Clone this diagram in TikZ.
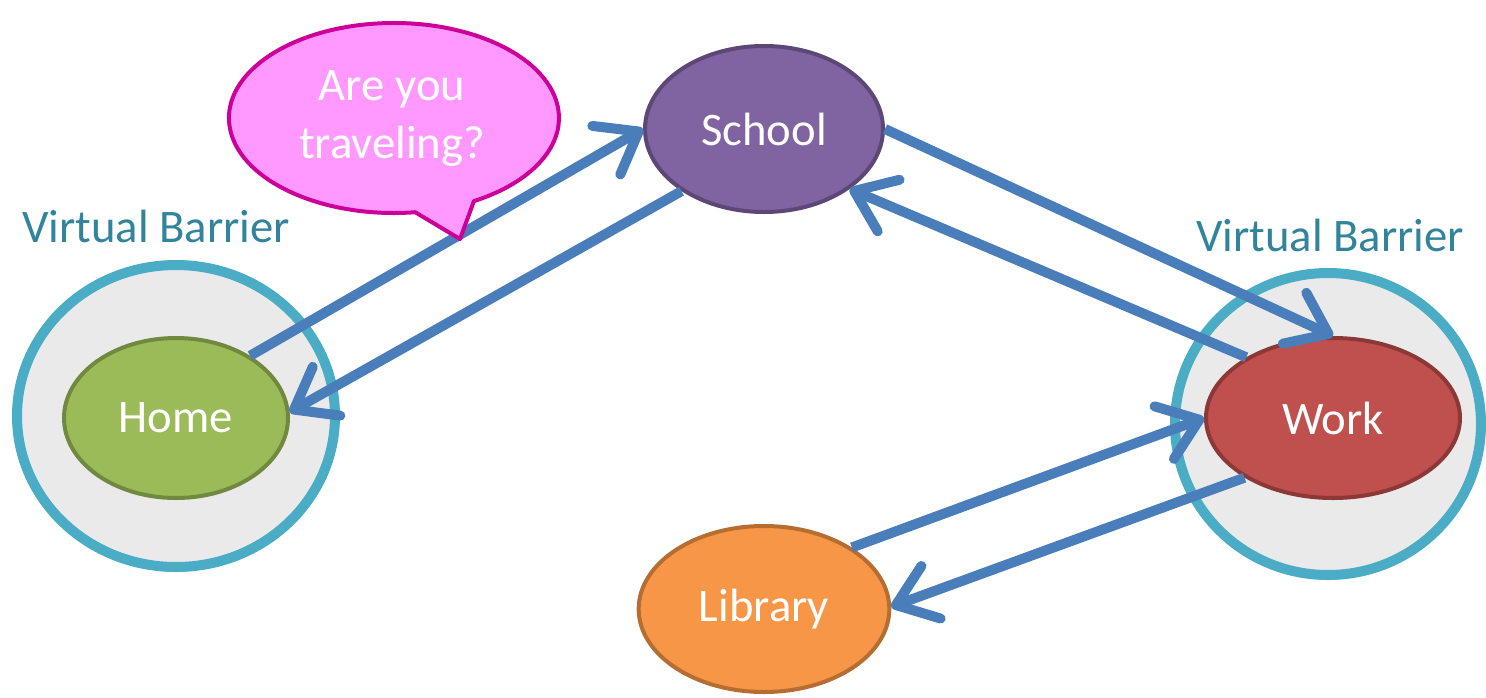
\documentclass[tikz,border=0pt]{standalone}
\usepackage{fontspec}
\setmainfont{Carlito}
\usetikzlibrary{arrows.meta,shapes.geometric}

\definecolor{barrierblue}{HTML}{4BACC6}
\definecolor{barriergray}{HTML}{EAEAEA}
\definecolor{barriertext}{HTML}{31849B}
\definecolor{tripblue}{HTML}{4A7EBB}
\definecolor{homefill}{HTML}{9BBB59}
\definecolor{homeline}{HTML}{71893F}
\definecolor{schoolfill}{HTML}{8064A2}
\definecolor{schoolline}{HTML}{5C4776}
\definecolor{workfill}{HTML}{C0504D}
\definecolor{workline}{HTML}{8C3836}
\definecolor{libraryfill}{HTML}{F79646}
\definecolor{libraryline}{HTML}{B66D31}
\definecolor{bubblefill}{HTML}{FF99FF}
\definecolor{bubbleline}{HTML}{CC0099}

\begin{document}
\begin{tikzpicture}[x=0.75pt,y=0.75pt,yscale=-1,xscale=1,
  bigfont/.style={font=\fontsize{35}{43.5}\selectfont},
  place/.style={ellipse, draw, line width=3pt, text=white, inner sep=0pt, bigfont},
  barrier/.style={draw=barrierblue, fill=barriergray, line width=7.5pt},
  barriername/.style={text=barriertext, inner sep=0.75pt, bigfont},
  trip/.style={draw=tripblue, line width=7.5pt, -{Straight Barb[length=28pt,width=42pt,round]}},
  bubble/.style={draw=bubbleline, fill=bubblefill, line width=3pt, line join=round}]

\useasboundingbox (0,0) rectangle (1486,697);

\draw[barrier] (176,416) ellipse [x radius=159, y radius=151];

\draw[barrier] (1328,424) ellipse [x radius=153, y radius=151];

\node[barriername] (leftbarrier) at (156,226) {Virtual Barrier};

\node[barriername] (rightbarrier) at (1330,235) {Virtual Barrier};


\node[place, fill=homefill, draw=homeline, minimum width=168pt, minimum height=120pt] (home) at (176,418) {Home};

\node[place, fill=schoolfill, draw=schoolline, minimum width=178.5pt, minimum height=124.5pt] (school) at (764,129) {School};

\node[place, fill=workfill, draw=workline, minimum width=190.5pt, minimum height=120pt] (work) at (1333,418) {Work};

\node[place, fill=libraryfill, draw=libraryline, minimum width=188pt, minimum height=124.5pt] (library) at (764,609) {Library};


\draw[trip] (home.40) -- (school.180);

\draw[trip] (school.217) -- (home.3);

\draw[trip] (school.0) -- (work.90);

\draw[trip] (work.145) -- (school.-35);

\draw[trip] (library.35) -- (work.180);

\draw[trip] (work.214) -- (library.1);


\draw[bubble] (415.2,212.2) arc [start angle=82.6, end angle=421, x radius=165, y radius=95] -- (460,239) -- cycle;

\node[bigfont, text=white, align=center, inner sep=0pt] (ask) at (392,119) {Are you\\traveling?};

\end{tikzpicture}
\end{document}
